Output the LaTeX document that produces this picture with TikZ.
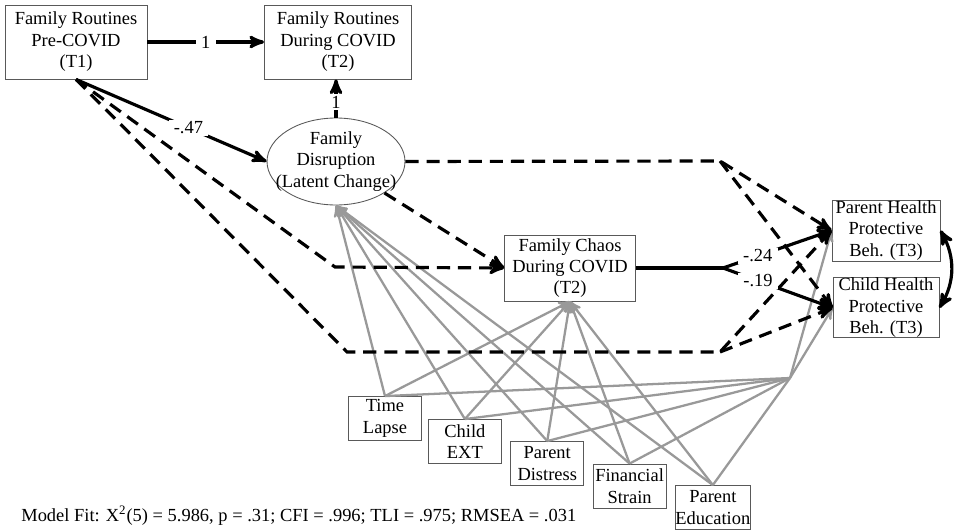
\documentclass[tikz,border=0pt]{standalone}
\usepackage{fontspec}
\setmainfont{Liberation Serif}
\usetikzlibrary{arrows,positioning,shapes}

\begin{document}
\begin{tikzpicture}[x=0.02cm, y=-0.02cm, >=stealth']
	\tikzstyle{box}
	  =[draw=black!65, line width=0.5pt, rectangle, align=center,
	  inner sep=0pt, font=\fontsize{10.5}{12.2}\selectfont]
	\tikzstyle{covbox}
	  =[box, minimum width=1.46cm, minimum height=0.88cm]
	\tikzstyle{latent}
	  =[draw=black!65, line width=0.5pt, ellipse, inner sep=0pt]
	\tikzstyle{txt}=[align=center, inner sep=0pt, font=\fontsize{10.5}{12.2}\selectfont]
	\tikzstyle{sig}=[line width=1.8pt]
	\tikzstyle{ns}=[sig, dash pattern=on 7.5pt off 4.5pt]
	\tikzstyle{cov}=[draw=black!40, line width=1.3pt]
	\tikzstyle{coef}=[fill=white, inner xsep=3pt, inner ysep=1pt, font=\fontsize{10.5}{12.2}\selectfont]

	\useasboundingbox (0,0) rectangle (955,530);

	% outcomes and mediators
	\node[box, minimum width=2.84cm, minimum height=1.48cm] (rt1)
	  at (76,42) {Family Routines\\Pre-COVID\\(T1)};
	\node[box, minimum width=2.94cm, minimum height=1.48cm] (rt2)
	  at (338,42) {Family Routines\\During COVID\\(T2)};
	\node[latent, minimum width=2.76cm, minimum height=1.74cm,
	  label={[txt]center:Family\\Disruption\\(Latent Change)}] (dis)
	  at (336,161.5) {};
	\node[box, minimum width=2.62cm, minimum height=1.32cm] (chaos)
	  at (570,268) {Family Chaos\\During COVID\\(T2)};
	\node[box, minimum width=2.16cm, minimum height=1.22cm] (ph)
	  at (886,230.5) {Parent Health\\Protective\\Beh. (T3)};
	\node[box, minimum width=2.12cm, minimum height=1.2cm] (ch)
	  [below=0.32cm of ph] {Child Health\\Protective\\Beh. (T3)};

	% covariates
	\node[covbox] (tl)
	  at (385,418.5) {Time\\Lapse};
	\node[covbox] (ce)
	  [right=0.12cm of tl, yshift=-0.46cm] {Child\\EXT};
	\node[covbox] (pd)
	  [right=0.17cm of ce, yshift=-0.44cm] {Parent\\Distress};
	\node[covbox] (fs)
	  [right=0.17cm of pd, yshift=-0.45cm] {Financial\\Strain};
	\node[covbox] (pe)
	  [right=0.17cm of fs, yshift=-0.43cm] {Parent\\Education};

	\node[txt, anchor=west] (fit)
	  at (21,516) {Model Fit: X\textsuperscript{2}(5) = 5.986, p = .31; CFI = .996; TLI = .975; RMSEA = .031};

	% bend points
	\coordinate (hub) at (790,378);
	\coordinate (sp) at (723,268);
	\coordinate (topb) at (720,161);
	\coordinate (bota) at (335,267);
	\coordinate (botb) at (347,352);
	\coordinate (botc) at (720,352);

	% covariate paths
	\foreach \c in {tl,ce,pd,fs,pe} {
	  \draw[cov,->] (\c.north) -- (dis.south);
	  \draw[cov,->] (\c.north) -- (chaos.south);
	  \draw[cov] (\c.north) -- (hub);
	}
	\draw[cov,->] (hub) -- (ph.west);
	\draw[cov,->] (hub) -- (ch.west);

	% non-significant paths
	\draw[ns,->] (rt1.south) -- (bota) -- (chaos.west);
	\draw[ns,->] (dis.-33) -- (chaos.west);
	\draw[ns,->] (rt1.south) -- (botb) -- (botc) -- (ph.west);
	\draw[ns,->] (botc) -- (ch.west);
	\draw[ns,->] (dis.east) -- (topb) -- (ph.west);
	\draw[ns,->] (topb) -- (ch.west);

	% significant paths
	\draw[sig,->] (rt1) -- node[coef] {1} (rt2);
	\draw[sig,->] (dis.north) -- node[coef, pos=0.4] {1} (dis.north |- rt2.south);
	\draw[sig,->] (rt1.south) -- node[coef, pos=0.59] {-.47} (dis.west);
	\draw[sig] (chaos.east) -- (sp);
	\draw[sig,->] (sp) -- node[coef, pos=0.32] {-.24} (ph.west);
	\draw[sig,->] (sp) -- node[coef, pos=0.32] {-.19} (ch.west);
	\draw[sig,<->] (ph.east) to[bend left=30] (ch.east);
\end{tikzpicture}
\end{document}
